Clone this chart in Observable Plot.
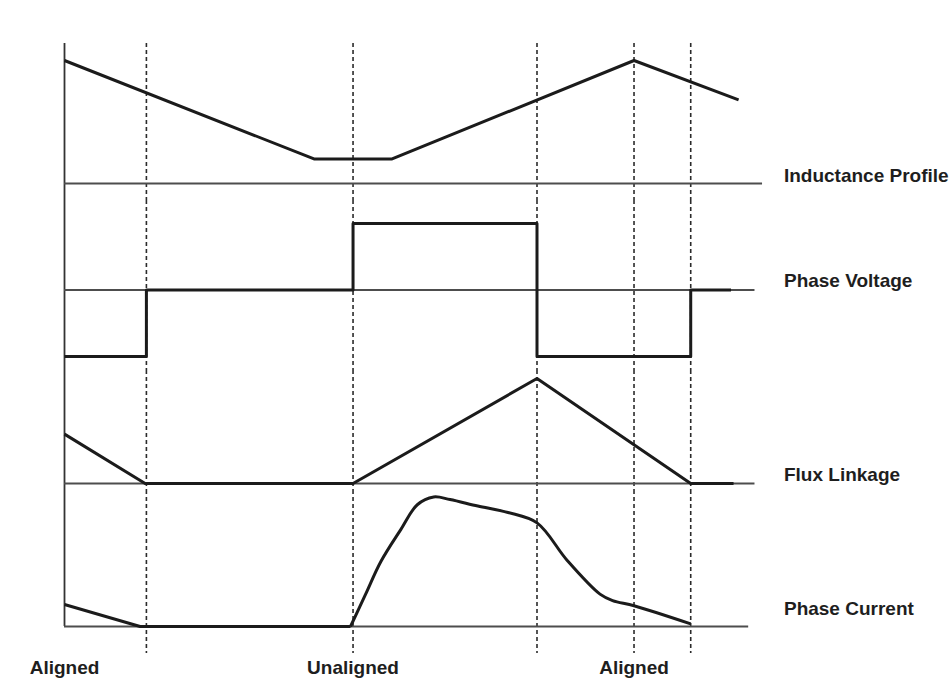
<!DOCTYPE html>
<html><head><meta charset="utf-8">
<script src="https://cdn.jsdelivr.net/npm/d3@7"></script>
<script src="https://cdn.jsdelivr.net/npm/@observablehq/plot@0.6"></script>
<style>
html,body{margin:0;padding:0;background:#fff;overflow:hidden;}
#chart svg{display:block;}
</style></head><body><div id="chart"></div>
<script>
// Rotor position (degrees) of the switching / reference instants (dashed lines)
const eventAngles = [6.5, 22.9, 37.5, 45.2, 49.7];
// Rotor position labels along the bottom
const positionLabels = ["Aligned", "Unaligned", "Aligned"];
const positionAngles = [0, 22.9, 45.2];
// Waveform names on the right
const waveformLabels = ["Inductance Profile", "Phase Voltage", "Flux Linkage", "Phase Current"];
const labelAngle = 57.1;
// Angle where each zero line ends
const baselineEnd = [55.4, 54.8, 54.8, 54.3];

// Inductance profile (normalised)
const inductanceAngle = [0, 19.8, 26.0, 45.2, 53.5];
const inductanceValue = [1.0, 0.2, 0.2, 1.0, 0.68];

// Phase voltage (+V / 0 / -V)
const voltageAngle = [0, 6.5, 22.9, 37.5, 49.7, 52.9];
const voltageValue = [-1, 0, 1, -1, 0, 0];

// Flux linkage (normalised)
const fluxAngle = [0, 6.4, 22.9, 37.5, 49.7, 53.1];
const fluxValue = [0.47, 0, 0, 1, 0, 0];

// Phase current (normalised): tail of previous stroke, then the main pulse
const currentTailAngle = [0, 6.0, 22.7];
const currentTailValue = [0.17, 0, 0];
const currentPulseAngle = [22.7, 23.9, 25.1, 26.7, 28.0, 29.3, 30.6, 32.8, 35.2, 37.5, 39.9, 42.5, 43.5, 45.2, 49.7];
const currentPulseValue = [0, 0.25, 0.50, 0.75, 0.94, 1.0, 0.98, 0.93, 0.88, 0.80, 0.51, 0.25, 0.20, 0.16, 0.02];

const pts = (xs, ys) => xs.map((x, i) => ({x, y: ys[i]}));

const FONT = "'Liberation Sans', Arial, Helvetica, sans-serif";
const wave = {x: "x", y: "y", stroke: "#1b1b1b", strokeWidth: 3, strokeLinejoin: "round", strokeLinecap: "butt"};
const base = {stroke: "#4d4d4d", strokeWidth: 2};
const dash = {stroke: "#2b2b2b", strokeWidth: 1.6, strokeDasharray: "4,3"};
const axisRule = {stroke: "#333", strokeWidth: 1.8};
const labelStyle = {textAnchor: "start", fontSize: 19, fontWeight: "bold", fill: "#1e1e1e", lineAnchor: "middle"};

function common(height, marginTop, marginBottom, yDomain, yRange) {
  return {
    width: 951, height, marginTop, marginBottom, marginLeft: 64, marginRight: 5,
    x: {domain: [0, 70], axis: null},
    y: {domain: yDomain, range: yRange, axis: null},
    style: {fontFamily: FONT, background: "#fff", overflow: "visible"}
  };
}
function label(i, yv, dy) {
  return Plot.text([{x: labelAngle, y: yv, t: waveformLabels[i]}], {x: "x", y: "y", text: "t", dy, ...labelStyle});
}

const chart = document.getElementById("chart");

// 1. Inductance profile
chart.append(Plot.plot({
  ...common(200, 43, 0, [0, 1], [183, 60]),
  marks: [
    Plot.ruleX([0], axisRule),
    Plot.ruleX(eventAngles, dash),
    Plot.ruleY([{y: 0, x1: 0, x2: baselineEnd[0]}], {y: "y", x1: "x1", x2: "x2", ...base}),
    Plot.line(pts(inductanceAngle, inductanceValue), wave),
    label(0, 0, -8)
  ]
}));

// 2. Phase voltage
chart.append(Plot.plot({
  ...common(170, 0, 0, [-1, 1], [156, 23]),
  marks: [
    Plot.ruleX([0], axisRule),
    Plot.ruleX(eventAngles, dash),
    Plot.ruleY([{y: 0, x1: 0, x2: baselineEnd[1]}], {y: "y", x1: "x1", x2: "x2", ...base}),
    Plot.line(pts(voltageAngle, voltageValue), {...wave, curve: "step-after"}),
    label(1, 0, -9)
  ]
}));

// 3. Flux linkage
chart.append(Plot.plot({
  ...common(120, 0, 0, [0, 1], [113, 8]),
  marks: [
    Plot.ruleX([0], axisRule),
    Plot.ruleX(eventAngles, dash),
    Plot.ruleY([{y: 0, x1: 0, x2: baselineEnd[2]}], {y: "y", x1: "x1", x2: "x2", ...base}),
    Plot.line(pts(fluxAngle, fluxValue), wave),
    label(2, 0, -9)
  ]
}));

// 4. Phase current + position labels
const CURRENT_TOP = 1.05;
chart.append(Plot.plot({
  ...common(197, 0, 34, [0, CURRENT_TOP], [136, 0]),
  marks: [
    Plot.ruleX([{x: 0, y1: 0, y2: CURRENT_TOP}], {x: "x", y1: "y1", y2: "y2", ...axisRule}),
    Plot.ruleX(eventAngles, dash),
    Plot.ruleY([{y: 0, x1: 0, x2: baselineEnd[3]}], {y: "y", x1: "x1", x2: "x2", ...base}),
    Plot.line(pts(currentTailAngle, currentTailValue), wave),
    Plot.line(pts(currentPulseAngle, currentPulseValue), {...wave, curve: "catmull-rom"}),
    label(3, 0, -18),
    Plot.text(positionLabels.map((t, i) => ({t, x: positionAngles[i]})), {
      x: "x", text: "t", frameAnchor: "bottom", dy: 14,
      textAnchor: "middle", lineAnchor: "middle", fontSize: 19, fontWeight: "bold", fill: "#1e1e1e"
    })
  ]
}));
</script>
</body></html>
